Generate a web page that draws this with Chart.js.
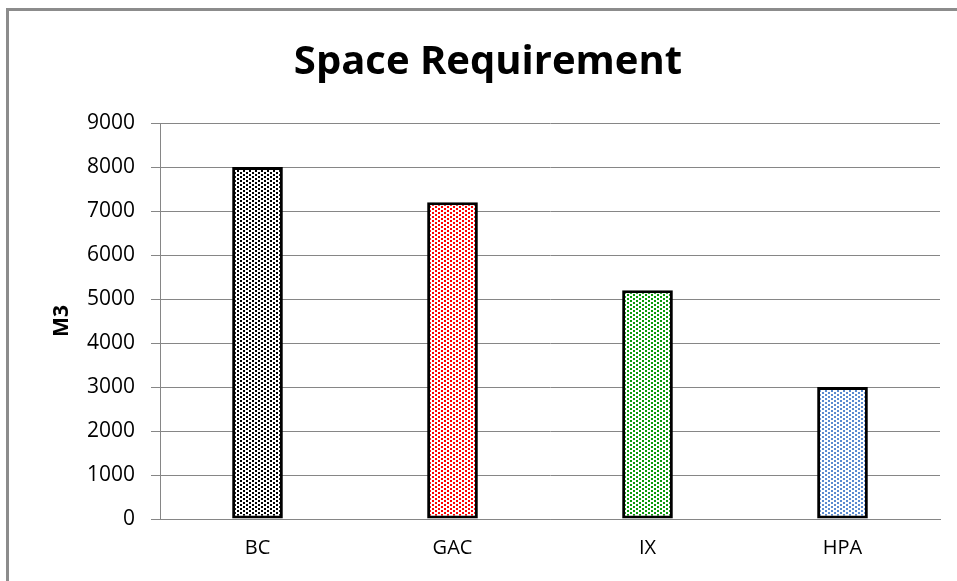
<!DOCTYPE html>
<html>
<head>
<meta charset="utf-8">
<script src="https://cdn.jsdelivr.net/npm/chart.js@4"></script>
<style>
html,body{margin:0;padding:0;background:#fff;}
#wrap{width:957px;height:581px;position:relative;}
</style>
</head>
<body>
<div id="wrap"><canvas id="c" width="957" height="581"></canvas></div>
<script>
const categories = ['BC', 'GAC', 'IX', 'HPA'];
const values = [8000, 7200, 5200, 3000];
const dotColors = ['#000000', '#ff0000', '#0a9a0a', '#5b8bd0'];
const yTicks = [0, 1000, 2000, 3000, 4000, 5000, 6000, 7000, 8000, 9000];
const chartTitle = 'Space Requirement';
const yTitle = 'M3';

function makePattern(color) {
  const t = document.createElement('canvas');
  t.width = 6; t.height = 4;
  const g = t.getContext('2d');
  g.fillStyle = '#ffffff';
  g.fillRect(0, 0, 6, 4);
  g.fillStyle = color;
  g.fillRect(0, 0, 2, 2);
  g.fillRect(3, 2, 2, 2);
  return document.getElementById('c').getContext('2d').createPattern(t, 'repeat');
}

const framePlugin = {
  id: 'frame',
  beforeDraw(chart) {
    const ctx = chart.ctx;
    ctx.save();
    ctx.fillStyle = '#ffffff';
    ctx.fillRect(0, 0, chart.width, chart.height);
    ctx.strokeStyle = '#8c8c8c';
    ctx.lineWidth = 3;
    ctx.beginPath();
    ctx.moveTo(7.5, chart.height);
    ctx.lineTo(7.5, 9.5);
    ctx.lineTo(chart.width, 9.5);
    ctx.stroke();
    ctx.restore();
  }
};

new Chart(document.getElementById('c'), {
  type: 'bar',
  data: {
    labels: categories,
    datasets: [{
      data: values,
      backgroundColor: dotColors.map(makePattern),
      borderColor: '#000000',
      borderWidth: 3,
      borderSkipped: false,
      categoryPercentage: 1,
      barPercentage: 0.26
    }]
  },
  plugins: [framePlugin],
  options: {
    responsive: false,
    animation: false,
    layout: { padding: { left: 36, right: 17, top: 39, bottom: 0 } },
    plugins: {
      legend: { display: false },
      tooltip: { enabled: false },
      title: {
        display: true,
        text: chartTitle,
        color: '#000000',
        font: { family: 'Open Sans', size: 40, weight: 'bold' },
        padding: { top: 0, bottom: 36 }
      }
    },
    scales: {
      x: {
        grid: { display: false, drawTicks: false },
        border: { display: true, color: '#868686', width: 1 },
        ticks: { color: '#000', font: { family: 'Open Sans', size: 20 }, padding: 17 },
        afterFit(s) { s.height = 62; }
      },
      y: {
        min: 0, max: 9000,
        afterBuildTicks(s) { s.ticks = yTicks.map(v => ({ value: v })); },
        grid: { color: '#868686', lineWidth: 1, tickLength: 9, drawTicks: true },
        border: { display: true, color: '#868686', width: 1 },
        ticks: {
          color: '#000', font: { family: 'Open Sans', size: 21 }, padding: 16,
          callback: (v) => String(v)
        },
        title: {
          display: true, text: yTitle, color: '#000',
          font: { family: 'Open Sans', size: 21, weight: 'bold' },
          padding: { top: 13, bottom: 0 }
        },
        afterFit(s) { s.width = 124; }
      }
    }
  }
});
</script>
</body>
</html>
